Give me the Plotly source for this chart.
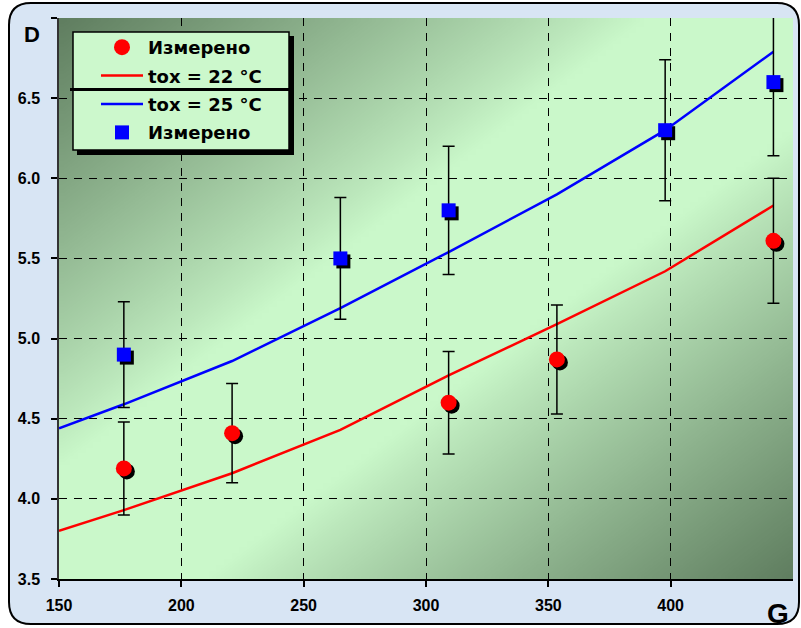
import base64, struct, zlib
import plotly.graph_objects as go

# ---------------- data ----------------
red_x = [176.5, 220.75, 309.25, 353.5, 442.0]
red_y = [4.19, 4.41, 4.60, 4.87, 5.61]
red_err = [0.29, 0.31, 0.32, 0.34, 0.39]
blue_x = [176.5, 265.0, 309.25, 397.75, 442.0]
blue_y = [4.90, 5.50, 5.80, 6.30, 6.60]
blue_err = [0.33, 0.38, 0.40, 0.44, 0.46]
line_x = [150.0, 176.5, 220.75, 265.0, 309.25, 353.5, 397.75, 442.0]
line22_y = [3.80, 3.93, 4.16, 4.43, 4.77, 5.09, 5.42, 5.83]
line25_y = [4.44, 4.59, 4.86, 5.19, 5.54, 5.90, 6.30, 6.79]
x_ticks = [150, 200, 250, 300, 350, 400]
y_ticks = [3.5, 4.0, 4.5, 5.0, 5.5, 6.0, 6.5, 7.0]
y_ticktext = ["3.5", "4.0", "4.5", "5.0", "5.5", "6.0", "6.5", ""]
X_RANGE = [150, 450]
Y_RANGE = [3.5, 7.0]

# ---------------- geometry ----------------
W, H = 801, 628
L, R, T, B = 59, 8, 18, 49
PW, PH = W - L - R, H - T - B

def px(xp):
    return (xp - L) / PW

def py(yp):
    return (H - B - yp) / PH

# ---------------- background gradient png ----------------
def make_png(w, h):
    light = (202, 248, 202)
    dark = (95, 125, 95)
    rows = []
    for j in range(h):
        v = 1 - (j + 0.5) / h
        row = bytearray([0])
        for i in range(w):
            u = (i + 0.5) / w
            d = abs(u - v)
            t = max(0.0, min(1.0, (d - 0.2) / 0.8)) ** 0.9
            for k in range(3):
                row.append(int(round(light[k] + (dark[k] - light[k]) * t)))
        rows.append(bytes(row))
    raw = b"".join(rows)

    def chunk(tag, data):
        c = struct.pack(">I", len(data)) + tag + data
        return c + struct.pack(">I", zlib.crc32(tag + data) & 0xFFFFFFFF)

    png = b"\x89PNG\r\n\x1a\n"
    png += chunk(b"IHDR", struct.pack(">IIBBBBB", w, h, 8, 2, 0, 0, 0))
    png += chunk(b"IDAT", zlib.compress(raw, 9))
    png += chunk(b"IEND", b"")
    return "data:image/png;base64," + base64.b64encode(png).decode()

bg_src = make_png(96, 96)

FONT = "Arial, Liberation Sans, sans-serif"
LFONT = "DejaVu Sans, Arial, sans-serif"
fig = go.Figure()

# shadows of markers
sdx = 3 * (X_RANGE[1] - X_RANGE[0]) / PW
sdy = 3 * (Y_RANGE[1] - Y_RANGE[0]) / PH
fig.add_trace(go.Scatter(x=[v + sdx for v in red_x], y=[v - sdy for v in red_y], mode="markers",
                         marker=dict(symbol="circle", size=16, color="black"),
                         showlegend=False, hoverinfo="skip", cliponaxis=False))
fig.add_trace(go.Scatter(x=[v + sdx for v in blue_x], y=[v - sdy for v in blue_y], mode="markers",
                         marker=dict(symbol="square", size=14, color="black"),
                         showlegend=False, hoverinfo="skip", cliponaxis=False))

fig.add_trace(go.Scatter(x=line_x, y=line22_y, mode="lines", name="tox = 22 °C",
                         line=dict(color="#ff0000", width=2.5), legendrank=2, legendgroup="b"))
fig.add_trace(go.Scatter(x=line_x, y=line25_y, mode="lines", name="tox = 25 °C",
                         line=dict(color="#0000ff", width=2.5), legendrank=3, legendgroup="c"))

fig.add_trace(go.Scatter(x=red_x, y=red_y, mode="markers", name="Измерено",
                         marker=dict(symbol="circle", size=16, color="#ff0000"),
                         error_y=dict(type="data", array=red_err, color="black", thickness=1.5, width=6),
                         legendrank=1, legendgroup="a", cliponaxis=False))
fig.add_trace(go.Scatter(x=blue_x, y=blue_y, mode="markers", name="Измерено",
                         marker=dict(symbol="square", size=14, color="#0000ff"),
                         error_y=dict(type="data", array=blue_err, color="black", thickness=1.5, width=6),
                         legendrank=4, legendgroup="d", cliponaxis=False))

# outer rounded border
x0, x1, y0, y1, rr = 9, 799, 3, 624, 22
rx, ry = rr / PW, rr / PH
X0, X1, Y0, Y1 = px(x0), px(x1), py(y1), py(y0)
path = (f"M{X0 + rx},{Y1} L{X1 - rx},{Y1} Q{X1},{Y1} {X1},{Y1 - ry} "
        f"L{X1},{Y0 + ry} Q{X1},{Y0} {X1 - rx},{Y0} L{X0 + rx},{Y0} "
        f"Q{X0},{Y0} {X0},{Y0 + ry} L{X0},{Y1 - ry} Q{X0},{Y1} {X0 + rx},{Y1} Z")
shapes = [
    dict(type="path", path=path, xref="paper", yref="paper", layer="below",
         fillcolor="#d8e5f4", line=dict(color="black", width=2)),
    # legend shadow, box and separator
    dict(type="rect", xref="paper", yref="paper", x0=px(77), x1=px(294), y0=py(155), y1=py(36),
         fillcolor="black", line=dict(width=0), layer="above"),
    dict(type="rect", xref="paper", yref="paper", x0=px(73), x1=px(289), y0=py(150), y1=py(32),
         fillcolor="#ccf8cc", line=dict(color="black", width=1.5), layer="above"),
    dict(type="line", xref="paper", yref="paper", x0=px(70), x1=px(292), y0=py(89.5), y1=py(89.5),
         line=dict(color="black", width=3), layer="above"),
]

fig.update_layout(
    width=W, height=H, autosize=False,
    margin=dict(l=L, r=R, t=T, b=B),
    paper_bgcolor="white", plot_bgcolor="rgba(0,0,0,0)",
    font=dict(family=FONT, color="black"),
    images=[dict(source=bg_src, xref="x", yref="y", x=X_RANGE[0], y=Y_RANGE[1],
                 sizex=X_RANGE[1] - X_RANGE[0], sizey=Y_RANGE[1] - Y_RANGE[0],
                 sizing="stretch", layer="below", xanchor="left", yanchor="top")],
    shapes=shapes,
    showlegend=True,
    legend=dict(x=px(96), y=py(29), xanchor="left", yanchor="top",
                bgcolor="rgba(0,0,0,0)", borderwidth=0, itemwidth=42,
                traceorder="grouped", tracegroupgap=2,
                font=dict(family=LFONT, size=18, color="black", weight="bold")),
    xaxis=dict(range=X_RANGE, tickvals=x_ticks, showgrid=True, gridcolor="black", gridwidth=1,
               griddash="8px,7px", zeroline=False, showline=True, linecolor="black", linewidth=1.5,
               ticks="outside", ticklen=6, tickcolor="black", tickwidth=1.5,
               tickfont=dict(family=FONT, size=16, weight="bold"), ticklabelstandoff=5),
    yaxis=dict(range=Y_RANGE, tickvals=y_ticks, ticktext=y_ticktext, showgrid=True, gridcolor="black",
               gridwidth=1, griddash="8px,7px", zeroline=False, showline=True, linecolor="#333333",
               linewidth=1.5, ticks="outside", ticklen=6, tickcolor="black", tickwidth=1.5,
               tickfont=dict(family=FONT, size=16, weight="bold"), ticklabelstandoff=8),
    annotations=[
        dict(text="D", x=px(32), y=py(34), xref="paper", yref="paper", showarrow=False,
             xanchor="center", yanchor="middle",
             font=dict(family=FONT, size=22, weight="bold")),
        dict(text="G", x=px(778), y=py(613), xref="paper", yref="paper", showarrow=False,
             xanchor="center", yanchor="middle",
             font=dict(family=FONT, size=28, weight="bold")),
    ],
)

fig.write_html("out.html", post_script="document.body.style.margin='0';",
               config={"displayModeBar": False})
